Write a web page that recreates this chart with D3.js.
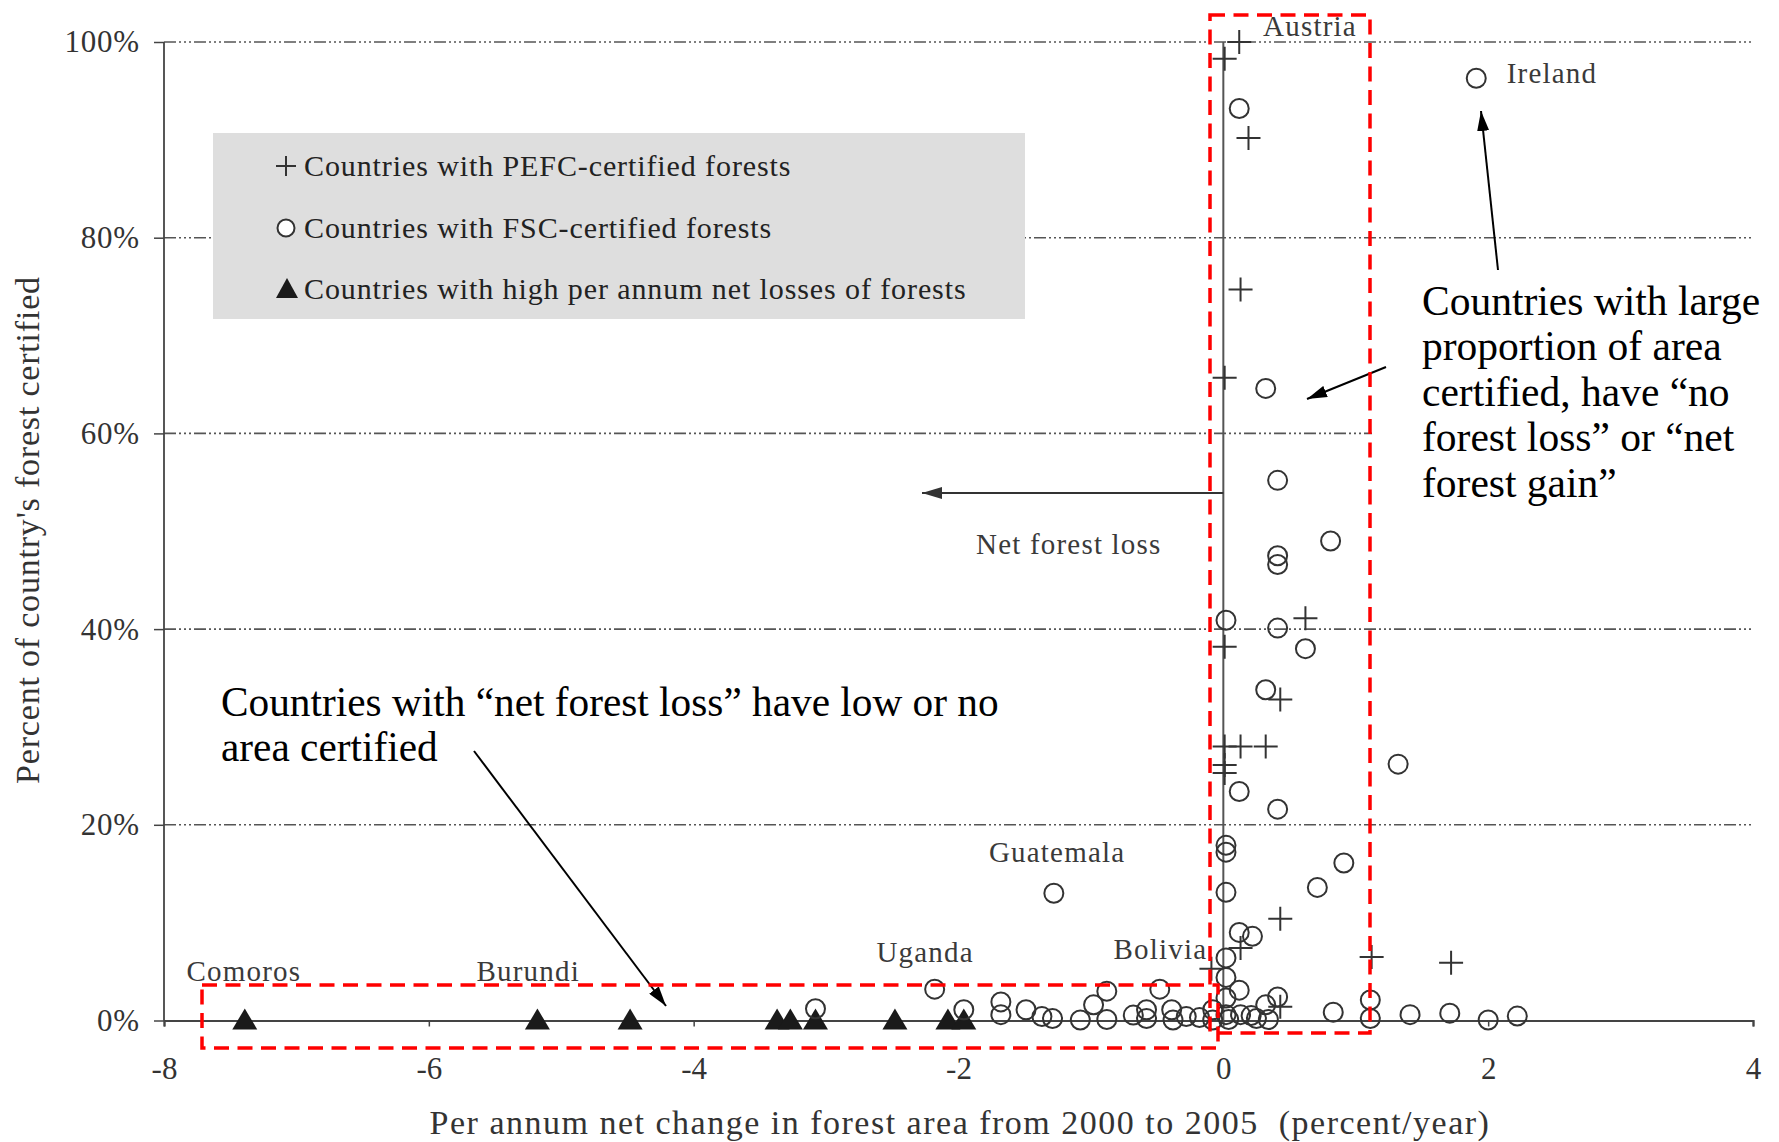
<!DOCTYPE html>
<html><head><meta charset="utf-8">
<script src="https://cdn.jsdelivr.net/npm/d3@7"></script>
<style>
html,body{margin:0;padding:0;background:#fff;}
svg{display:block;}
</style></head>
<body>
<svg id="chart" width="1779" height="1142"></svg>
<script>
// ---------------- data ----------------
const xTicks = [-8, -6, -4, -2, 0, 2, 4];
const yTicks = [0, 20, 40, 60, 80, 100];
const yTickLabels = ["0%", "20%", "40%", "60%", "80%", "100%"];

// Countries with high per annum net losses of forests (all at 0% certified)
const lossX = [-7.39, -5.18, -4.48, -3.37, -3.27, -3.08, -2.48, -2.08, -1.96];
const lossY = [0, 0, 0, 0, 0, 0, 0, 0, 0];

// FSC-certified: [net change %/yr, % certified]
const fscX = [1.91, 0.12, 0.32, 0.41, 0.81, 0.41, 0.41, 0.02, 0.41, 0.62, 0.32, 1.32, 0.12, 0.41, 0.02, 0.02, 0.91, 0.71, 0.02, -1.28,
  0.12, 0.22, 0.02, 0.02, -2.18, -0.88, -0.48, 0.12, 0.41, 0.02, 0.32, 1.11, -1.68, -0.98, -3.08, -1.96, -1.49, -0.58, -0.39, -0.08,
  -1.68, -1.37, -1.29, -1.08, -0.88, -0.68, -0.58, -0.38, -0.28, -0.18, -0.08, 0.02, 0.04, 0.13, 0.21, 0.34, 0.25, 0.83, 1.11, 1.41,
  1.71, 2.00, 2.22];
const fscY = [96.3, 93.2, 64.6, 55.2, 49.0, 47.5, 46.6, 40.9, 40.1, 38.0, 33.8, 26.2, 23.4, 21.6, 17.9, 17.2, 16.1, 13.6, 13.1, 13.0,
  9.0, 8.6, 6.4, 4.4, 3.2, 3.0, 3.2, 3.1, 2.4, 2.3, 1.6, 2.1, 1.9, 1.6, 1.2, 1.1, 1.1, 1.1, 1.1, 1.1,
  0.6, 0.4, 0.2, 0.05, 0.1, 0.55, 0.2, 0.05, 0.4, 0.3, 0.05, 0.6, 0.1, 0.6, 0.5, 0.1, 0.2, 0.85, 0.2, 0.6,
  0.75, 0.05, 0.45];

// PEFC-certified
const pefcX = [0.12, 0.01, 0.19, 0.13, 0.01, 0.62, 0.01, 0.43, 0.01, 0.13, 0.32, 0.01, 0.01, 0.43, 0.13, 1.12, -0.09, 1.72, 0.43];
const pefcY = [100, 98.3, 90.2, 74.7, 65.7, 41.1, 38.2, 32.8, 28.0, 28.0, 28.0, 26.1, 25.3, 10.4, 7.4, 6.5, 5.3, 5.9, 1.4];

const countryNames = ["Austria", "Ireland", "Guatemala", "Uganda", "Bolivia", "Comoros", "Burundi"];
const countryLabelX = [0.30, 2.14, -1.77, -2.62, -0.83, -7.83, -5.64];
const countryLabelY = [100.6, 95.8, 16.2, 6.0, 6.3, 4.0, 4.0];

const legendLabels = ["Countries with PEFC-certified forests", "Countries with FSC-certified forests", "Countries with high per annum net losses of forests"];

// ---------------- drawing ----------------
const svg = d3.select("#chart");
const x = d3.scaleLinear().domain([-8, 4]).range([164, 1753]);
const y = d3.scaleLinear().domain([0, 100]).range([1020.5, 42]);
const serif = "'Liberation Serif', 'Times New Roman', serif";
const ink = "#333";

const defs = svg.append("defs");
function arrowMarker(id, color) {
  defs.append("marker").attr("id", id).attr("markerUnits", "userSpaceOnUse")
    .attr("viewBox", "0 0 20 12").attr("refX", 20).attr("refY", 6)
    .attr("markerWidth", 20).attr("markerHeight", 12).attr("orient", "auto")
    .append("path").attr("d", "M0,0 L20,6 L0,12 Z").attr("fill", color);
}
arrowMarker("ahBlack", "#000");
arrowMarker("ahGray", "#333");

// gridlines
svg.append("g").selectAll("line").data(yTicks.filter(d => d > 0)).join("line")
  .attr("x1", x(-8)).attr("x2", x(4)).attr("y1", d => y(d)).attr("y2", d => y(d))
  .attr("stroke", "#555").attr("stroke-width", 1.6)
  .attr("stroke-dasharray", "12,3,2,3,2,3,2,3");

// legend background
svg.append("rect").attr("x", 213).attr("y", 133).attr("width", 812).attr("height", 186).attr("fill", "#dedede");

// white box behind right-hand annotation
svg.append("rect").attr("x", 1372).attr("y", 280).attr("width", 407).attr("height", 225).attr("fill", "#fff");

// axes
const gx = svg.append("g").attr("transform", `translate(0,${y(0)})`)
  .call(d3.axisBottom(x).tickValues(xTicks).tickSize(6).tickPadding(30).tickFormat(d => d));
gx.select(".domain").attr("stroke", "#444").attr("stroke-width", 2.2);
gx.selectAll(".tick line").attr("stroke", "#444").attr("stroke-width", 1.5);
gx.selectAll(".tick text").attr("font-family", serif).attr("font-size", 31).attr("fill", ink);

const gy = svg.append("g").attr("transform", `translate(${x(-8)},0)`)
  .call(d3.axisLeft(y).tickValues(yTicks).tickSize(10).tickPadding(14).tickFormat((d, i) => yTickLabels[i]));
gy.select(".domain").attr("stroke", "#444").attr("stroke-width", 1.8).attr("d", `M0,${y(100)}V${y(0)}`);
gy.selectAll(".tick line").attr("stroke", "#444").attr("stroke-width", 1.5);
gy.selectAll(".tick text").attr("font-family", serif).attr("font-size", 31).attr("letter-spacing", 0.8).attr("fill", ink);

// vertical zero line
svg.append("line").attr("x1", x(0)).attr("x2", x(0)).attr("y1", y(100)).attr("y2", y(0))
  .attr("stroke", "#555").attr("stroke-width", 2);

// axis titles
svg.append("text").attr("x", 960).attr("y", 1134).attr("text-anchor", "middle")
  .attr("font-family", serif).attr("font-size", 34).attr("letter-spacing", 1.5).attr("fill", ink)
  .style("white-space", "pre")
  .text("Per annum net change in forest area from 2000 to 2005  (percent/year)");
svg.append("text").attr("transform", "translate(39,530) rotate(-90)").attr("text-anchor", "middle")
  .attr("font-family", serif).attr("font-size", 34).attr("letter-spacing", 0.8).attr("fill", ink)
  .text("Percent of country's forest certified");

// marks
const triPath = "M0,-12 L12.5,9 L-12.5,9 Z";
svg.append("g").selectAll("path").data(lossX).join("path")
  .attr("transform", (d, i) => `translate(${x(d)},${y(lossY[i])})`)
  .attr("d", triPath).attr("fill", "#1a1a1a");

svg.append("g").selectAll("circle").data(fscX).join("circle")
  .attr("cx", d => x(d)).attr("cy", (d, i) => y(fscY[i])).attr("r", 9.5)
  .attr("fill", "none").attr("stroke", ink).attr("stroke-width", 2);

const crossPath = "M-12,0 H12 M0,-12 V12";
svg.append("g").selectAll("path").data(pefcX).join("path")
  .attr("transform", (d, i) => `translate(${x(d)},${y(pefcY[i])})`)
  .attr("d", crossPath).attr("stroke", ink).attr("stroke-width", 2).attr("fill", "none");

// legend
const legendY = [166, 228, 289];
const lg = svg.append("g");
lg.append("path").attr("transform", `translate(286,${legendY[0]})`).attr("d", "M-10,0 H10 M0,-10 V10")
  .attr("stroke", ink).attr("stroke-width", 2);
lg.append("circle").attr("cx", 286).attr("cy", legendY[1]).attr("r", 8.5)
  .attr("fill", "#fff").attr("stroke", ink).attr("stroke-width", 2);
lg.append("path").attr("transform", `translate(287,${legendY[2]})`).attr("d", "M0,-11 L11,9 L-11,9 Z").attr("fill", "#1a1a1a");
lg.selectAll("text").data(legendLabels).join("text")
  .attr("x", 304).attr("y", (d, i) => legendY[i] + 10)
  .attr("font-family", serif).attr("font-size", 30).attr("letter-spacing", 0.9).attr("fill", "#222")
  .text(d => d);

// country labels
svg.append("g").selectAll("text").data(countryNames).join("text")
  .attr("x", (d, i) => x(countryLabelX[i])).attr("y", (d, i) => y(countryLabelY[i]))
  .attr("font-family", serif).attr("font-size", 29).attr("letter-spacing", 1.2).attr("fill", "#3a3a3a")
  .text(d => d);

// net forest loss arrow + label
svg.append("line").attr("x1", x(0)).attr("x2", 922).attr("y1", 493).attr("y2", 493)
  .attr("stroke", "#333").attr("stroke-width", 2).attr("marker-end", "url(#ahGray)");
svg.append("text").attr("x", 976).attr("y", 554)
  .attr("font-family", serif).attr("font-size", 29).attr("letter-spacing", 1.2).attr("fill", "#3a3a3a")
  .text("Net forest loss");

// annotation arrows
function arrow(x1, y1, x2, y2) {
  svg.append("line").attr("x1", x1).attr("y1", y1).attr("x2", x2).attr("y2", y2)
    .attr("stroke", "#000").attr("stroke-width", 2).attr("marker-end", "url(#ahBlack)");
}
arrow(1498, 270, 1481, 111);
arrow(1386, 367, 1307, 399);
arrow(474, 751, 666, 1006);

// annotation texts
const annoFont = "'Liberation Serif', 'Times New Roman', serif";
const anno1 = ["Countries with large", "proportion of area", "certified, have \u201cno", "forest loss\u201d or \u201cnet", "forest gain\u201d"];
svg.append("g").selectAll("text").data(anno1).join("text")
  .attr("x", 1422).attr("y", (d, i) => 315 + i * 45.4)
  .attr("font-family", annoFont).attr("font-size", 41.5).attr("fill", "#000").text(d => d);
const anno2 = ["Countries with \u201cnet forest loss\u201d have low or no", "area certified"];
svg.append("g").selectAll("text").data(anno2).join("text")
  .attr("x", 221).attr("y", (d, i) => 716 + i * 45)
  .attr("font-family", annoFont).attr("font-size", 41.3).attr("fill", "#000").text(d => d);

// red dashed boxes
svg.append("rect").attr("x", 1210).attr("y", 15).attr("width", 160).attr("height", 1018)
  .attr("fill", "none").attr("stroke", "#f00").attr("stroke-width", 3.5).attr("stroke-dasharray", "15,8.5");
svg.append("rect").attr("x", 202).attr("y", 985).attr("width", 1016).attr("height", 63)
  .attr("fill", "none").attr("stroke", "#f00").attr("stroke-width", 3.5).attr("stroke-dasharray", "15,8.5");
</script>
</body></html>
